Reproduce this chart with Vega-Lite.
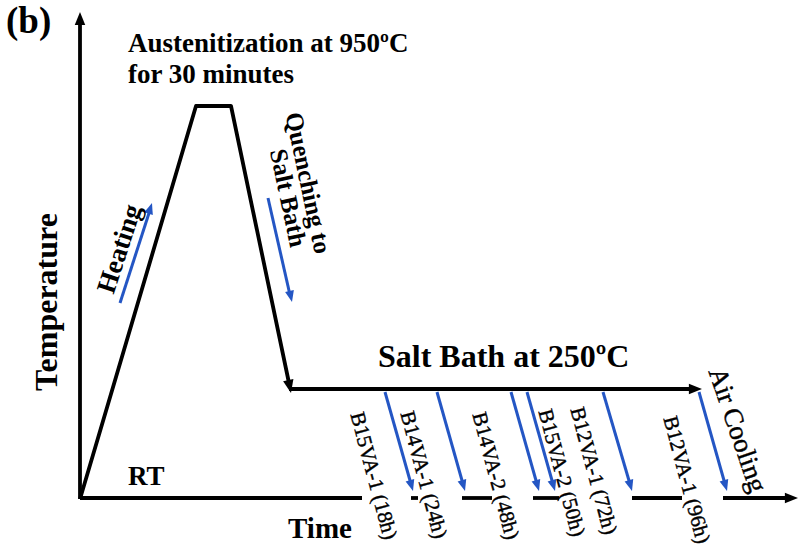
{
  "$schema": "https://vega.github.io/schema/vega-lite/v6.json",
  "width": 798,
  "height": 554,
  "autosize": {"type": "none"},
  "padding": 0,
  "background": "white",
  "config": {"view": {"stroke": null}},
  "datasets": {
    "black": [
      {"seg": "yaxis", "o": 0, "x": 80, "y": 499},
      {"seg": "yaxis", "o": 1, "x": 80, "y": 22},
      {"seg": "profile", "o": 0, "x": 80, "y": 499},
      {"seg": "profile", "o": 1, "x": 196, "y": 106},
      {"seg": "profile", "o": 2, "x": 231, "y": 106},
      {"seg": "profile", "o": 3, "x": 289, "y": 383},
      {"seg": "bath", "o": 0, "x": 289, "y": 389},
      {"seg": "bath", "o": 1, "x": 694, "y": 389},
      {"seg": "b1", "o": 0, "x": 80, "y": 498},
      {"seg": "b1", "o": 1, "x": 362, "y": 498},
      {"seg": "b2", "o": 0, "x": 411, "y": 498},
      {"seg": "b2", "o": 1, "x": 418, "y": 498},
      {"seg": "b3", "o": 0, "x": 462, "y": 498},
      {"seg": "b3", "o": 1, "x": 492, "y": 498},
      {"seg": "b4", "o": 0, "x": 533, "y": 498},
      {"seg": "b4", "o": 1, "x": 559, "y": 498},
      {"seg": "b5", "o": 0, "x": 632, "y": 498},
      {"seg": "b5", "o": 1, "x": 682, "y": 498},
      {"seg": "b6", "o": 0, "x": 723, "y": 498},
      {"seg": "b6", "o": 1, "x": 790, "y": 498}
    ],
    "blue": [
      {"seg": "heat", "o": 0, "x": 120, "y": 303},
      {"seg": "heat", "o": 1, "x": 150, "y": 210},
      {"seg": "quench", "o": 0, "x": 268, "y": 198},
      {"seg": "quench", "o": 1, "x": 290, "y": 295},
      {"seg": "a1", "o": 0, "x": 385, "y": 392},
      {"seg": "a1", "o": 1, "x": 411, "y": 484},
      {"seg": "a2", "o": 0, "x": 437, "y": 392},
      {"seg": "a2", "o": 1, "x": 463, "y": 484},
      {"seg": "a3", "o": 0, "x": 511, "y": 392},
      {"seg": "a3", "o": 1, "x": 537, "y": 484},
      {"seg": "a4", "o": 0, "x": 527, "y": 392},
      {"seg": "a4", "o": 1, "x": 553, "y": 484},
      {"seg": "a5", "o": 0, "x": 603, "y": 392},
      {"seg": "a5", "o": 1, "x": 630, "y": 484},
      {"seg": "a6", "o": 0, "x": 699, "y": 392},
      {"seg": "a6", "o": 1, "x": 725, "y": 484}
    ],
    "headUp": [{"x": 80, "y": 12}],
    "headRight": [{"x": 702, "y": 389}, {"x": 798, "y": 498}],
    "headQuench": [{"x": 291, "y": 393}],
    "blueHeadDown": [
      {"x": 413, "y": 491}, {"x": 465, "y": 491}, {"x": 539, "y": 491},
      {"x": 555, "y": 491}, {"x": 632, "y": 491}, {"x": 727, "y": 491}
    ],
    "blueHeadHeat": [{"x": 152, "y": 203}],
    "blueHeadQuench": [{"x": 292, "y": 302}],
    "panel": [{"x": 6, "y": 33, "t": "(b)"}],
    "titles": [
      {"x": 128, "y": 52, "t": "Austenitization at 950ºC"},
      {"x": 128, "y": 83, "t": "for 30 minutes"},
      {"x": 128, "y": 485, "t": "RT"}
    ],
    "bathTitle": [{"x": 378, "y": 367, "t": "Salt Bath at 250ºC"}],
    "timeLabel": [{"x": 288, "y": 538, "t": "Time"}],
    "ylabel": [{"x": 47, "y": 302, "t": "Temperature"}],
    "heating": [{"x": 120, "y": 249, "t": "Heating"}],
    "quench": [
      {"x": 308, "y": 183, "t": "Quenching to"},
      {"x": 288, "y": 198, "t": "Salt Bath"}
    ],
    "samples": [
      {"x": 373, "y": 476, "t": "B15VA-1 (18h)"},
      {"x": 423, "y": 475, "t": "B14VA-1 (24h)"},
      {"x": 495, "y": 476, "t": "B14VA-2 (48h)"},
      {"x": 561, "y": 473, "t": "B15VA-2 (50h)"},
      {"x": 593, "y": 471, "t": "B12VA-1 (72h)"},
      {"x": 686, "y": 480, "t": "B12VA-1 (96h)"}
    ],
    "air": [{"x": 737, "y": 430, "t": "Air Cooling"}]
  },
  "encoding": {
    "x": {"field": "x", "type": "quantitative", "scale": {"domain": [0, 798], "nice": false, "zero": false}, "axis": null},
    "y": {"field": "y", "type": "quantitative", "scale": {"domain": [0, 554], "nice": false, "zero": false, "reverse": true}, "axis": null}
  },
  "layer": [
    {
      "data": {"name": "black"},
      "mark": {"type": "line", "color": "#000000", "strokeWidth": 3.8, "strokeJoin": "round"},
      "encoding": {"detail": {"field": "seg"}, "order": {"field": "o", "type": "quantitative"}}
    },
    {
      "data": {"name": "blue"},
      "mark": {"type": "line", "color": "#2456c4", "strokeWidth": 3},
      "encoding": {"detail": {"field": "seg"}, "order": {"field": "o", "type": "quantitative"}}
    },
    {
      "data": {"name": "headUp"},
      "mark": {"type": "point", "shape": "M0,0L1,2.5L-1,2.5Z", "size": 110, "filled": true, "color": "#000000", "opacity": 1, "angle": 0}
    },
    {
      "data": {"name": "headRight"},
      "mark": {"type": "point", "shape": "M0,0L1,2.5L-1,2.5Z", "size": 110, "filled": true, "color": "#000000", "opacity": 1, "angle": 90}
    },
    {
      "data": {"name": "headQuench"},
      "mark": {"type": "point", "shape": "M0,0L1,2.5L-1,2.5Z", "size": 110, "filled": true, "color": "#000000", "opacity": 1, "angle": 168}
    },
    {
      "data": {"name": "blueHeadDown"},
      "mark": {"type": "point", "shape": "M0,0L1,2.5L-1,2.5Z", "size": 80, "filled": true, "color": "#2456c4", "opacity": 1, "angle": 164}
    },
    {
      "data": {"name": "blueHeadHeat"},
      "mark": {"type": "point", "shape": "M0,0L1,2.5L-1,2.5Z", "size": 80, "filled": true, "color": "#2456c4", "opacity": 1, "angle": 18}
    },
    {
      "data": {"name": "blueHeadQuench"},
      "mark": {"type": "point", "shape": "M0,0L1,2.5L-1,2.5Z", "size": 80, "filled": true, "color": "#2456c4", "opacity": 1, "angle": 167}
    },
    {
      "data": {"name": "panel"},
      "mark": {"type": "text", "font": "Liberation Serif", "fontWeight": "bold", "fontSize": 37, "align": "left", "baseline": "alphabetic", "color": "#000000"},
      "encoding": {"text": {"field": "t"}}
    },
    {
      "data": {"name": "titles"},
      "mark": {"type": "text", "font": "Liberation Serif", "fontWeight": "bold", "fontSize": 27, "align": "left", "baseline": "alphabetic", "color": "#000000"},
      "encoding": {"text": {"field": "t"}}
    },
    {
      "data": {"name": "bathTitle"},
      "mark": {"type": "text", "font": "Liberation Serif", "fontWeight": "bold", "fontSize": 32, "align": "left", "baseline": "alphabetic", "color": "#000000"},
      "encoding": {"text": {"field": "t"}}
    },
    {
      "data": {"name": "timeLabel"},
      "mark": {"type": "text", "font": "Liberation Serif", "fontWeight": "bold", "fontSize": 29, "align": "left", "baseline": "alphabetic", "color": "#000000"},
      "encoding": {"text": {"field": "t"}}
    },
    {
      "data": {"name": "ylabel"},
      "mark": {"type": "text", "font": "Liberation Serif", "fontWeight": "bold", "fontSize": 32, "align": "center", "baseline": "middle", "angle": 270, "color": "#000000"},
      "encoding": {"text": {"field": "t"}}
    },
    {
      "data": {"name": "heating"},
      "mark": {"type": "text", "font": "Liberation Serif", "fontWeight": "bold", "fontSize": 27, "align": "center", "baseline": "middle", "angle": 288, "color": "#000000"},
      "encoding": {"text": {"field": "t"}}
    },
    {
      "data": {"name": "quench"},
      "mark": {"type": "text", "font": "Liberation Serif", "fontWeight": "bold", "fontSize": 25, "align": "center", "baseline": "middle", "angle": 78, "color": "#000000"},
      "encoding": {"text": {"field": "t"}}
    },
    {
      "data": {"name": "samples"},
      "mark": {"type": "text", "font": "Liberation Serif", "fontSize": 21, "align": "center", "baseline": "middle", "angle": 75, "color": "#000000", "stroke": "#000000", "strokeWidth": 0.4},
      "encoding": {"text": {"field": "t"}}
    },
    {
      "data": {"name": "air"},
      "mark": {"type": "text", "font": "Liberation Serif", "fontSize": 27, "align": "center", "baseline": "middle", "angle": 71, "color": "#000000", "stroke": "#000000", "strokeWidth": 0.4},
      "encoding": {"text": {"field": "t"}}
    }
  ]
}
